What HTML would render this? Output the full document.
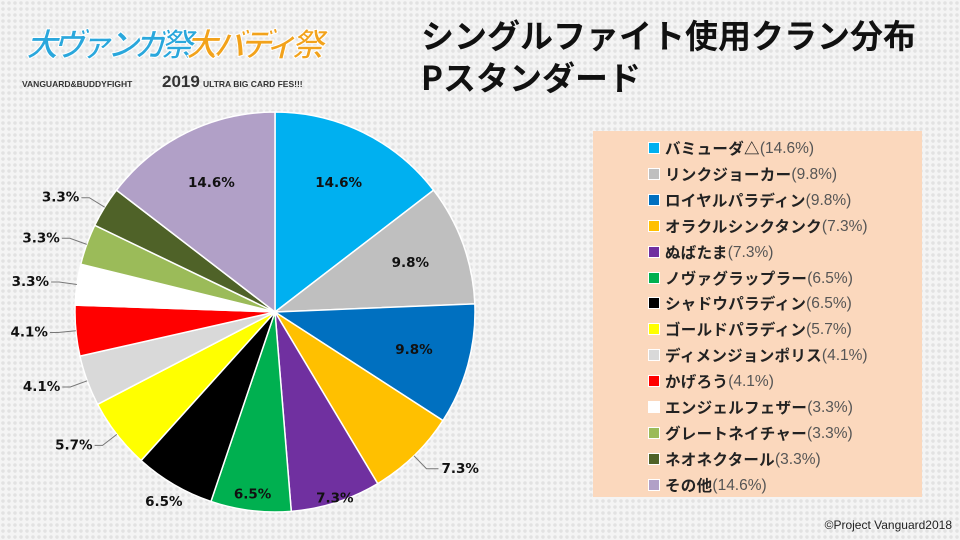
<!DOCTYPE html>
<html><head><meta charset="utf-8">
<style>
html,body{margin:0;padding:0}
body{width:960px;height:540px;overflow:hidden;position:relative;font-family:"Liberation Sans","Noto Sans CJK JP",sans-serif;
background-color:#f4f4f4;background-image:radial-gradient(circle,#e2e2e2 1.6px,transparent 2px);background-size:6px 6px}
.title{position:absolute;left:421px;font-weight:bold;font-size:33px;color:#111;font-family:"Noto Sans CJK JP","Liberation Sans",sans-serif;white-space:nowrap}
#legend{position:absolute;left:593px;top:131px;width:329px;height:366px;background:#fbd8bd}
.li{position:absolute;left:55px;height:22px;display:flex;align-items:center;font-size:15.5px;line-height:22px;color:#222;white-space:nowrap}
.sw{width:10px;height:10px;border:1px solid #fff;margin-right:5px}
.li b{font-family:"Noto Sans CJK JP",sans-serif;font-weight:bold;letter-spacing:0.3px;line-height:22px}
.li span{color:#555;font-weight:normal;line-height:22px;position:relative;top:1px}
.logo{position:absolute;white-space:nowrap;font-family:'Noto Sans CJK JP',sans-serif;font-weight:bold;font-style:italic;font-size:32px;letter-spacing:-5px;-webkit-text-stroke:1px #fff}
</style></head><body>
<div style="position:absolute;left:22px;top:14px;width:310px;height:80px">
  <div class="logo" style="left:4px;top:6px;color:#2aa7dc">大ヴァンガ祭</div>
  <div class="logo" style="left:164px;top:6px;color:#f2a21b">大バディ祭</div>
  <div style="position:absolute;left:0;top:65px;font-size:8.5px;font-weight:bold;color:#333;white-space:nowrap">VANGUARD&amp;BUDDYFIGHT</div>
  <div style="position:absolute;left:140px;top:58px;font-size:17px;font-weight:bold;color:#333">2019</div>
  <div style="position:absolute;left:181px;top:65px;font-size:8.5px;font-weight:bold;color:#333;white-space:nowrap">ULTRA BIG CARD FES!!!</div>
</div>
<div class="title" style="top:10px">シングルファイト使用クラン分布</div>
<div class="title" style="top:52px">Pスタンダード</div>
<svg id="pie" width="960" height="540" style="position:absolute;left:0;top:0"></svg>
<div id="legend"></div>
<div style="position:absolute;right:8px;top:518px;font-size:12px;color:#222">©Project Vanguard2018</div>
<script>
const categories=["バミューダ△","リンクジョーカー","ロイヤルパラディン","オラクルシンクタンク","ぬばたま","ノヴァグラップラー","シャドウパラディン","ゴールドパラディン","ディメンジョンポリス","かげろう","エンジェルフェザー","グレートネイチャー","ネオネクタール","その他"];
const values=[14.6,9.8,9.8,7.3,7.3,6.5,6.5,5.7,4.1,4.1,3.3,3.3,3.3,14.6];
const colors=["#00b0f0","#bfbfbf","#0070c0","#ffc000","#7030a0","#00b050","#000000","#ffff00","#d9d9d9","#ff0000","#ffffff","#9bbb59","#4f6228","#b1a0c7"];
const labelMode=["in","in","in","lead","edge","in2","out","lead","lead","lead","lead","lead","lead","in"];
const NS="http://www.w3.org/2000/svg";
const svg=document.getElementById('pie');
const cx=275,cy=312,R=200;
const total=values.reduce((a,b)=>a+b,0);
function ang(v){return v/total*Math.PI*2;}
function pt(a,r){return [cx+r*Math.sin(a),cy-r*Math.cos(a)];}
let a0=0;
values.forEach((v,i)=>{
  const a1=a0+ang(v);
  const p0=pt(a0,R),p1=pt(a1,R);
  const path=document.createElementNS(NS,'path');
  path.setAttribute('d',`M${cx},${cy}L${p0[0]},${p0[1]}A${R},${R} 0 ${a1-a0>Math.PI?1:0} 1 ${p1[0]},${p1[1]}Z`);
  path.setAttribute('fill',colors[i]);path.setAttribute('stroke','#fff');path.setAttribute('stroke-width','1.5');
  
  
  svg.appendChild(path);
  const m=(a0+a1)/2, mode=labelMode[i];
  const t=document.createElementNS(NS,'text');
  t.textContent=v.toFixed(1)+'%';
  t.setAttribute('font-size','13.5');t.setAttribute('font-weight','bold');t.setAttribute('fill','#111');
  t.setAttribute('font-family','"DejaVu Sans","Liberation Sans",sans-serif');
  t.setAttribute('dominant-baseline','middle');
  
  
  if(mode==='lead'){
    const e=pt(m,R),k=pt(m,R*1.09);
    const right=Math.sin(m)>0;
    const hx=k[0]+(right?12:-8);
    const l=document.createElementNS(NS,'polyline');
    l.setAttribute('points',`${e[0]},${e[1]} ${k[0]},${k[1]} ${hx},${k[1]}`);
    l.setAttribute('fill','none');l.setAttribute('stroke','#777');l.setAttribute('stroke-width','1');
    
    
    svg.appendChild(l);
    t.setAttribute('x',hx+(right?3:-2));t.setAttribute('y',k[1]);
    t.setAttribute('text-anchor',right?'start':'end');
  }else{
    const rr={in:0.72,in2:0.92,edge:0.98,out:1.1}[mode];
    const p=pt(m,R*rr);
    t.setAttribute('x',p[0]);t.setAttribute('y',p[1]);t.setAttribute('text-anchor','middle');
  }
  svg.appendChild(t);
  a0=a1;
});
const lg=document.getElementById('legend');
categories.forEach((c,i)=>{
  const d=document.createElement('div');
  d.className='li';
  d.style.top=(6+i*25.9)+'px';
  
  
  d.innerHTML=`<div class="sw" style="background:${colors[i]}"></div><b>${c}</b><span>(${values[i].toFixed(1)}%)</span>`;
  lg.appendChild(d);
});
</script>
</body></html>
